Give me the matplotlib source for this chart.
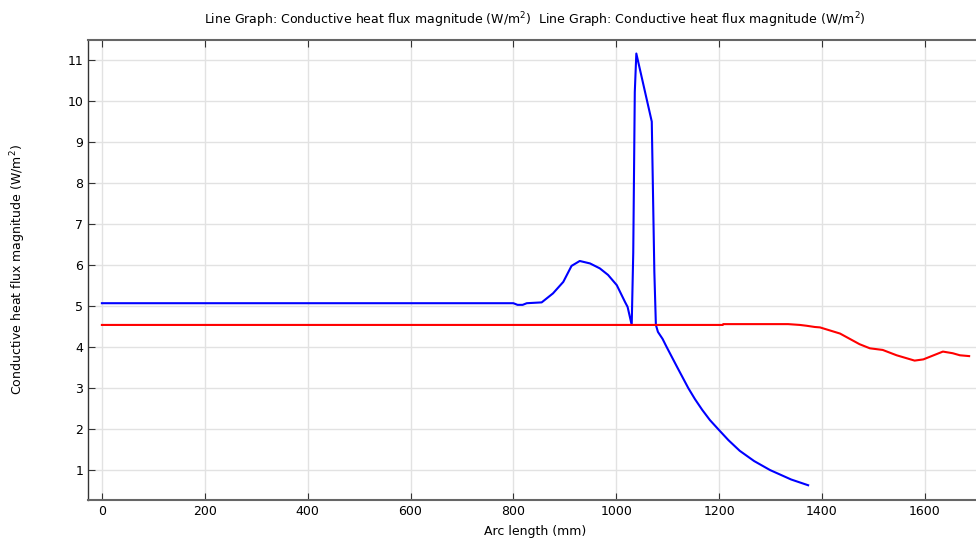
import numpy as np
from matplotlib import pyplot as plt

# blue curve (first line graph)
arc_blue = [0, 800, 808, 818, 826, 855, 877, 897, 913, 929, 949, 968, 984, 1001,
            1017, 1022, 1030, 1033, 1036, 1039, 1069, 1074, 1077, 1081, 1090,
            1098, 1108, 1118, 1129, 1140, 1153, 1167, 1182, 1198, 1218, 1240,
            1268, 1299, 1340, 1373]
flux_blue = [5.07, 5.07, 5.03, 5.03, 5.07, 5.09, 5.31, 5.59, 5.98, 6.10, 6.04,
             5.92, 5.76, 5.51, 5.10, 4.98, 4.54, 6.30, 10.22, 11.16, 9.50, 5.84,
             4.54, 4.37, 4.20, 4.00, 3.76, 3.52, 3.26, 3.00, 2.73, 2.47, 2.22,
             2.00, 1.73, 1.47, 1.22, 1.00, 0.77, 0.63]

# red curve (second line graph)
arc_red = [0, 1207, 1208, 1334, 1357, 1370, 1386, 1396, 1435, 1473, 1493, 1518,
           1545, 1580, 1597, 1635, 1654, 1668, 1686]
flux_red = [4.54, 4.54, 4.56, 4.56, 4.54, 4.52, 4.49, 4.48, 4.33, 4.07, 3.97,
            3.93, 3.80, 3.67, 3.70, 3.89, 3.85, 3.80, 3.78]

x_ticks = [0, 200, 400, 600, 800, 1000, 1200, 1400, 1600]
y_ticks = list(range(1, 12))

plt.rcParams['font.family'] = ['DejaVu Sans']
fig = plt.figure(figsize=(9.76, 5.39), dpi=100)
W, H = 976, 539
ax = fig.add_axes([88 / W, (H - 500) / H, (982 - 88) / W, 460 / H])

ax.plot(arc_blue, flux_blue, color='#0000ff', lw=1.5)
ax.plot(arc_red, flux_red, color='#ff0000', lw=1.5)

ax.set_xlim(-27, 1711)
ax.set_ylim(0.27, 11.49)
ax.set_xticks(x_ticks)
ax.set_yticks(y_ticks)
ax.grid(True, color='#e2e2e2', lw=1)
ax.set_axisbelow(True)
ax.tick_params(direction='in', length=5, labelsize=9, top=True, color='#333333')

for s in ax.spines.values():
    s.set_color('#666666')
    s.set_linewidth(1.5)
ax.spines['left'].set_color('#333333')
ax.spines['left'].set_linewidth(1)

ax.set_xlabel('Arc length (mm)', fontsize=9, labelpad=5)
ax.set_ylabel('Conductive heat flux magnitude (W/m$^2$)', fontsize=9, labelpad=28)
ax.set_title('Line Graph: Conductive heat flux magnitude (W/m$^2$)  '
             'Line Graph: Conductive heat flux magnitude (W/m$^2$)',
             fontsize=9, pad=11)

fig.savefig('out.png', dpi=100)
